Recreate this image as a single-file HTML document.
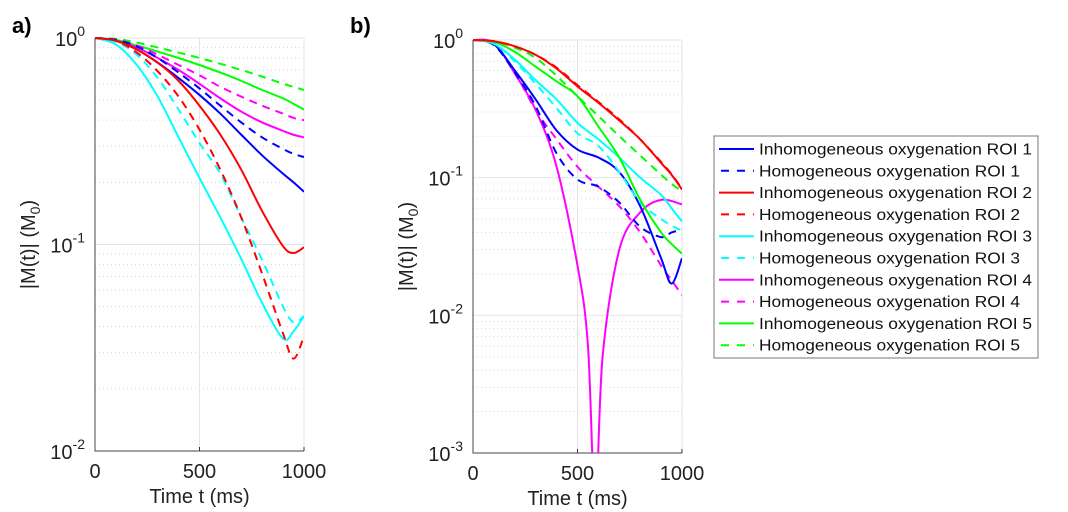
<!DOCTYPE html>
<html><head><meta charset="utf-8"><style>
body{margin:0;background:#fff;}
svg{display:block;font-family:"Liberation Sans",Arial,sans-serif;}
</style></head><body>
<svg id="svg" width="1068" height="512" viewBox="0 0 1068 512">
<text x="12" y="33" font-size="22" font-weight="bold">a)</text>
<text x="350" y="33" font-size="22" font-weight="bold">b)</text>
<g id="pa"></g>
<g id="pb"></g>
<g id="legend"></g>
</svg>
<script>
// ---- data ----
const tA = [0,100,200,300,400,500,600,700,800,900,950,1000];
const aInh1 = [1,0.97,0.88,0.76,0.64,0.53,0.43,0.34,0.27,0.22,0.20,0.18];
const aHom1 = [1,0.98,0.91,0.80,0.68,0.57,0.47,0.39,0.33,0.29,0.275,0.265];
const aInh2 = [1,0.97,0.88,0.76,0.62,0.47,0.34,0.23,0.145,0.098,0.091,0.097];
const aHom2 = [1,0.97,0.85,0.69,0.52,0.36,0.23,0.135,0.072,0.037,0.028,0.036];
const aInh3 = [1,0.93,0.74,0.52,0.33,0.21,0.135,0.085,0.052,0.035,0.038,0.045];
const aHom3 = [1,0.96,0.83,0.64,0.45,0.31,0.22,0.135,0.084,0.05,0.042,0.045];
const aInh4 = [1,0.97,0.90,0.80,0.70,0.60,0.51,0.44,0.39,0.355,0.34,0.33];
const aHom4 = [1,0.98,0.92,0.83,0.74,0.66,0.58,0.52,0.47,0.43,0.41,0.40];
const aInh5 = [1,0.98,0.92,0.86,0.80,0.74,0.68,0.62,0.56,0.51,0.48,0.45];
const aHom5 = [1,0.99,0.95,0.90,0.85,0.80,0.75,0.70,0.65,0.60,0.58,0.56];
const tB = [0,100,200,300,400,500,600,700,800,900,950,1000];
const bInh1 = [1,0.93,0.60,0.37,0.22,0.16,0.14,0.11,0.062,0.026,0.017,0.026];
const bHom1 = [1,0.92,0.58,0.33,0.15,0.097,0.086,0.066,0.044,0.037,0.04,0.042];
const bInh2 = [1,0.98,0.90,0.78,0.62,0.46,0.35,0.26,0.19,0.128,0.105,0.082];
const bHom2 = [1,0.98,0.90,0.78,0.63,0.47,0.355,0.265,0.19,0.13,0.106,0.083];
const bInh3 = [1,0.94,0.72,0.51,0.37,0.25,0.19,0.14,0.10,0.075,0.06,0.048];
const bHom3 = [1,0.94,0.70,0.48,0.32,0.21,0.17,0.11,0.066,0.05,0.045,0.041];
const tM = [0,100,200,300,400,500,550,585,620,700,800,900,1000];
const bInh4 = [1,0.95,0.57,0.31,0.12,0.023,0.006,0.0004,0.005,0.03,0.056,0.069,0.064];
const bHom4 = [1,0.93,0.58,0.31,0.19,0.12,0.086,0.062,0.04,0.023,0.018,0.014];
const bInh5 = [1,0.97,0.82,0.64,0.50,0.39,0.235,0.14,0.069,0.04,0.033,0.028];
const bHom5 = [1,0.98,0.88,0.74,0.55,0.39,0.28,0.20,0.145,0.105,0.09,0.08];
const xTicks = [0,500,1000];
const legendLabels = ["Inhomogeneous oxygenation ROI 1","Homogeneous oxygenation ROI 1","Inhomogeneous oxygenation ROI 2","Homogeneous oxygenation ROI 2","Inhomogeneous oxygenation ROI 3","Homogeneous oxygenation ROI 3","Inhomogeneous oxygenation ROI 4","Homogeneous oxygenation ROI 4","Inhomogeneous oxygenation ROI 5","Homogeneous oxygenation ROI 5"];
const colors = ["#0000ff","#ff0000","#00ffff","#ff00ff","#00ff00"];

const NS="http://www.w3.org/2000/svg";
function mk(tag,attrs,parent){const e=document.createElementNS(NS,tag);for(const k in attrs)e.setAttribute(k,attrs[k]);parent.appendChild(e);return e;}

function panel(g,id,box,minExp,series){
  const {x0,x1,y0,y1}=box;
  const decades=-minExp;
  const xs=t=>x0+(t/1000)*(x1-x0);
  const ys=v=>y0+(-Math.log10(v))/decades*(y1-y0);
  const clipId="clip"+id;
  const cp=mk("clipPath",{id:clipId},g);mk("rect",{x:x0,y:y0-3,width:x1-x0,height:y1-y0+3},cp);
  for(let e=0;e>minExp;e--){
    for(let m=2;m<=9;m++){
      const l=mk("line",{x1:x0,x2:x1,y1:ys(m*Math.pow(10,e-1)),y2:ys(m*Math.pow(10,e-1)),stroke:"#d8d8d8","stroke-width":1,"stroke-dasharray":"1,3"},g);
      
      
    }
  }
  for(let e=0;e>=minExp;e--){
    const l=mk("line",{x1:x0,x2:x1,y1:ys(Math.pow(10,e)),y2:ys(Math.pow(10,e)),stroke:"#e4e4e4","stroke-width":1},g);
    
    
    const tx=mk("text",{x:x0-10,y:ys(Math.pow(10,e))+8,"font-size":20,"text-anchor":"end",fill:"#222"},g);
    
    
    tx.innerHTML='10<tspan font-size="14" dy="-10">'+e+'</tspan>';
  }
  xTicks.forEach(t=>{
    const l=mk("line",{x1:xs(t),x2:xs(t),y1:y0,y2:y1,stroke:"#e4e4e4","stroke-width":1},g);
    
    
    const tk=mk("line",{x1:xs(t),x2:xs(t),y1:y1,y2:y1-4,stroke:"#333"},g);
    
    
    const tx=mk("text",{x:xs(t),y:y1+27,"font-size":20,"text-anchor":"middle",fill:"#222"},g);
    
    
    tx.textContent=t;
  });
  const ax=mk("path",{d:`M${x0},${y0} L${x0},${y1} L${x1},${y1}`,fill:"none",stroke:"#444","stroke-width":1},g);
  
  
  const xl=mk("text",{x:(x0+x1)/2,y:y1+52,"font-size":20,"text-anchor":"middle",fill:"#222"},g);
  
  
  xl.textContent="Time t (ms)";
  const yl=mk("text",{x:0,y:0,"font-size":20,"text-anchor":"middle",fill:"#222",transform:`translate(${x0-60},${(y0+y1)/2}) rotate(-90)`},g);
  
  
  yl.innerHTML='|M(t)| (M<tspan font-size="14" dy="5">0</tspan><tspan dy="-5">)</tspan>';
  const sg=mk("g",{"clip-path":`url(#${clipId})`},g);
  series.forEach(s=>{
    const pts=s.t.map((t,i)=>[xs(t),ys(s.v[i])]);
    let d=`M${pts[0][0]},${pts[0][1]}`;
    for(let i=0;i<pts.length-1;i++){
      const p0=pts[Math.max(0,i-1)],p1=pts[i],p2=pts[i+1],p3=pts[Math.min(pts.length-1,i+2)];
      const c1=[p1[0]+(p2[0]-p0[0])/6,p1[1]+(p2[1]-p0[1])/6];
      const c2=[p2[0]-(p3[0]-p1[0])/6,p2[1]-(p3[1]-p1[1])/6];
      d+=` C${c1[0]},${c1[1]} ${c2[0]},${c2[1]} ${p2[0]},${p2[1]}`;
    }
    const p=mk("path",{d,fill:"none",stroke:s.c,"stroke-width":2,"stroke-dasharray":s.dash?"8,6":"none"},sg);
    
    
  });
}
const pa=document.getElementById("pa"),pb=document.getElementById("pb");
panel(pa,"a",{x0:95,x1:304,y0:38,y1:451},-2,[
 {t:tA,v:aInh5,c:colors[4],dash:false,name:"a-inhom-roi5-line"},
 {t:tA,v:aHom5,c:colors[4],dash:true,name:"a-hom-roi5-line"},
 {t:tA,v:aInh4,c:colors[3],dash:false,name:"a-inhom-roi4-line"},
 {t:tA,v:aHom4,c:colors[3],dash:true,name:"a-hom-roi4-line"},
 {t:tA,v:aInh1,c:colors[0],dash:false,name:"a-inhom-roi1-line"},
 {t:tA,v:aHom1,c:colors[0],dash:true,name:"a-hom-roi1-line"},
 {t:tA,v:aInh3,c:colors[2],dash:false,name:"a-inhom-roi3-line"},
 {t:tA,v:aHom3,c:colors[2],dash:true,name:"a-hom-roi3-line"},
 {t:tA,v:aInh2,c:colors[1],dash:false,name:"a-inhom-roi2-line"},
 {t:tA,v:aHom2,c:colors[1],dash:true,name:"a-hom-roi2-line"}
]);
panel(pb,"b",{x0:473,x1:682,y0:40,y1:453},-3,[
 {t:tM,v:bInh4,c:colors[3],dash:false,name:"b-inhom-roi4-line"},
 {t:tB,v:bHom4,c:colors[3],dash:true,name:"b-hom-roi4-line"},
 {t:tB,v:bInh1,c:colors[0],dash:false,name:"b-inhom-roi1-line"},
 {t:tB,v:bHom1,c:colors[0],dash:true,name:"b-hom-roi1-line"},
 {t:tB,v:bInh3,c:colors[2],dash:false,name:"b-inhom-roi3-line"},
 {t:tB,v:bHom3,c:colors[2],dash:true,name:"b-hom-roi3-line"},
 {t:tB,v:bInh5,c:colors[4],dash:false,name:"b-inhom-roi5-line"},
 {t:tB,v:bHom5,c:colors[4],dash:true,name:"b-hom-roi5-line"},
 {t:tB,v:bHom2,c:colors[1],dash:true,name:"b-hom-roi2-line"},
 {t:tB,v:bInh2,c:colors[1],dash:false,name:"b-inhom-roi2-line"}
]);
const lg=document.getElementById("legend");
const lb=mk("rect",{x:714,y:136,width:324,height:222,fill:"#fff",stroke:"#777","stroke-width":1},lg);


legendLabels.forEach((lab,i)=>{
  const y=149+i*21.8;
  const g=mk("g",{},lg);
  
  
  mk("line",{x1:719,x2:754,y1:y,y2:y,stroke:colors[Math.floor(i/2)],"stroke-width":2,"stroke-dasharray":i%2?"8,8":"none","stroke-dashoffset":i%2?"-2":"0"},g);
  const tx=mk("text",{x:759,y:y+5.5,"font-size":15.5,fill:"#111",textLength:i%2?261:273,lengthAdjust:"spacingAndGlyphs"},g);
  tx.textContent=lab;
});
</script>
</body></html>
